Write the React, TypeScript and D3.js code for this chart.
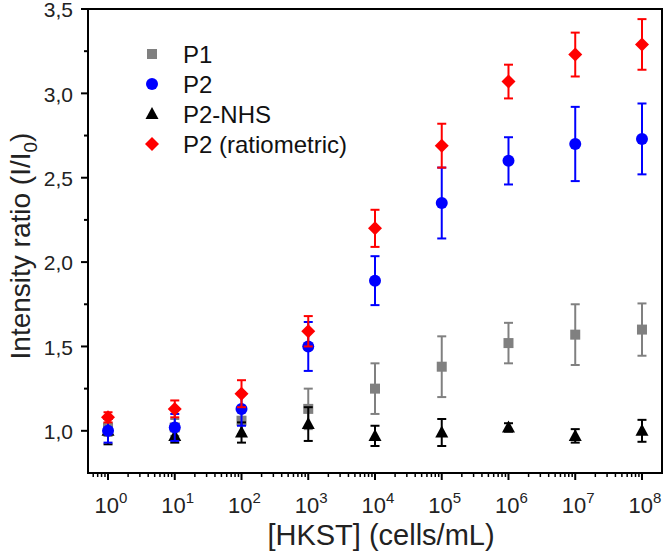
import * as d3 from 'd3';

// concentrations as powers of ten
const exponents = [0, 1, 2, 3, 4, 5, 6, 7, 8];

const p1Mean = [1.02, 1.02, 1.06, 1.13, 1.25, 1.38, 1.52, 1.57, 1.60];
const p1Err = [0.05, 0.05, 0.08, 0.12, 0.15, 0.18, 0.12, 0.18, 0.155];

const p2Mean = [1.0, 1.02, 1.13, 1.50, 1.89, 2.35, 2.60, 2.70, 2.73];
const p2Err = [0.07, 0.08, 0.10, 0.145, 0.145, 0.21, 0.14, 0.22, 0.21];

const nhsMean = [1.0, 0.97, 0.99, 1.04, 0.97, 0.99, 1.02, 0.97, 1.0];
const nhsErr = [0.08, 0.04, 0.06, 0.10, 0.06, 0.08, 0.025, 0.04, 0.065];

const ratioMean = [1.08, 1.13, 1.22, 1.59, 2.20, 2.69, 3.07, 3.23, 3.29];
const ratioErr = [0.03, 0.05, 0.08, 0.09, 0.11, 0.13, 0.10, 0.13, 0.15];

const yTicks = [1.0, 1.5, 2.0, 2.5, 3.0, 3.5];
const yMinorTicks = [1.25, 1.75, 2.25, 2.75, 3.25];

const legendLabels = ['P1', 'P2', 'P2-NHS', 'P2 (ratiometric)'];

const W = 666;
const H = 553;
const margin = { left: 88, right: 4, top: 9, bottom: 80 };
const FONT = 'Arial, "Liberation Sans", sans-serif';

type Shape = 'square' | 'circle' | 'triangle' | 'diamond';

const series: { name: string; mean: number[]; err: number[]; color: string; shape: Shape }[] = [
  { name: legendLabels[0], mean: p1Mean, err: p1Err, color: '#808080', shape: 'square' },
  { name: legendLabels[2], mean: nhsMean, err: nhsErr, color: '#000000', shape: 'triangle' },
  { name: legendLabels[1], mean: p2Mean, err: p2Err, color: '#0000ff', shape: 'circle' },
  { name: legendLabels[3], mean: ratioMean, err: ratioErr, color: '#ff0000', shape: 'diamond' },
];

function Marker({ shape, x, y, color }: { shape: Shape; x: number; y: number; color: string }) {
  if (shape === 'square') return <rect x={x - 5} y={y - 5} width={10} height={10} fill={color} />;
  if (shape === 'circle') return <circle cx={x} cy={y} r={6} fill={color} />;
  if (shape === 'triangle')
    return <path d={`M${x},${y - 7}L${x + 6.5},${y + 5}L${x - 6.5},${y + 5}Z`} fill={color} />;
  return <path d={`M${x},${y - 7}L${x + 7},${y}L${x},${y + 7}L${x - 7},${y}Z`} fill={color} />;
}

export default function App() {
  const x = d3.scaleLog().domain([Math.pow(10, -0.3), Math.pow(10, 8.3)]).range([margin.left, W - margin.right]);
  const y = d3.scaleLinear().domain([0.75, 3.5]).range([H - margin.bottom, margin.top]);
  const [x0, x1] = x.range();
  const [y0, y1] = y.range();

  const minorX: number[] = [];
  for (let e = -1; e <= 8; e++) {
    for (let m = 2; m <= 9; m++) {
      const v = m * Math.pow(10, e);
      if (v >= x.domain()[0] && v <= x.domain()[1]) minorX.push(v);
    }
  }
  const fmt = (v: number) => v.toFixed(1).replace('.', ',');

  return (
    <svg width={W} height={H} style={{ position: 'absolute', left: 0, top: 0 }} fontFamily={FONT}>
      <rect width={W} height={H} fill="#fff" />

      {/* data */}
      {series.map(s => (
        <g key={s.name}>
          {exponents.map((e, i) => {
            const cx = x(Math.pow(10, e));
            const top = y(s.mean[i] + s.err[i]);
            const bot = y(s.mean[i] - s.err[i]);
            return (
              <g key={e} stroke={s.color} strokeWidth={2}>
                <line x1={cx} x2={cx} y1={top} y2={bot} />
                <line x1={cx - 4.5} x2={cx + 4.5} y1={top} y2={top} />
                <line x1={cx - 4.5} x2={cx + 4.5} y1={bot} y2={bot} />
              </g>
            );
          })}
          {exponents.map((e, i) => (
            <Marker key={e} shape={s.shape} x={x(Math.pow(10, e))} y={y(s.mean[i])} color={s.color} />
          ))}
        </g>
      ))}

      {/* frame */}
      <rect x={x0} y={y1} width={x1 - x0} height={y0 - y1} fill="none" stroke="#000" strokeWidth={2} />

      {/* y axis ticks */}
      {yTicks.map(t => (
        <g key={t}>
          <line x1={x0 - 7} x2={x0} y1={y(t)} y2={y(t)} stroke="#000" strokeWidth={2} />
          <text x={x0 - 15} y={y(t)} dy="0.4em" textAnchor="end" fontSize={21} fill="#222">
            {fmt(t)}
          </text>
        </g>
      ))}
      {yMinorTicks.map(t => (
        <line key={t} x1={x0 - 4} x2={x0} y1={y(t)} y2={y(t)} stroke="#000" strokeWidth={2} />
      ))}

      {/* x axis ticks */}
      {minorX.map(v => (
        <line key={v} x1={x(v)} x2={x(v)} y1={y0} y2={y0 + 4} stroke="#000" strokeWidth={1.5} />
      ))}
      {exponents.map(e => (
        <g key={e}>
          <line x1={x(Math.pow(10, e))} x2={x(Math.pow(10, e))} y1={y0} y2={y0 + 7} stroke="#000" strokeWidth={2} />
          <text x={x(Math.pow(10, e)) + 3} y={y0 + 40} textAnchor="middle" fontSize={22} fill="#222">
            10
            <tspan dy={-10} fontSize={15}>{e}</tspan>
          </text>
        </g>
      ))}

      {/* axis titles */}
      <text x={(x0 + x1) / 2 + 6} y={H - 8} textAnchor="middle" fontSize={29} fill="#222">
        [HKST] (cells/mL)
      </text>
      <text
        transform={`translate(30,${(y0 + y1) / 2 + 5}) rotate(-90)`}
        textAnchor="middle"
        fontSize={28}
        fill="#222"
      >
        Intensity ratio (I/I
        <tspan dy={7} fontSize={19}>0</tspan>
        <tspan dy={-7}>)</tspan>
      </text>

      {/* legend */}
      {[series[0], series[2], series[1], series[3]].map((s, i) => (
        <g key={s.name} transform={`translate(0,${54 + i * 30})`}>
          <Marker shape={s.shape} x={152} y={0} color={s.color} />
          <text x={183} y={0} dy="0.36em" fontSize={24} fill="#111">
            {s.name}
          </text>
        </g>
      ))}
    </svg>
  );
}
